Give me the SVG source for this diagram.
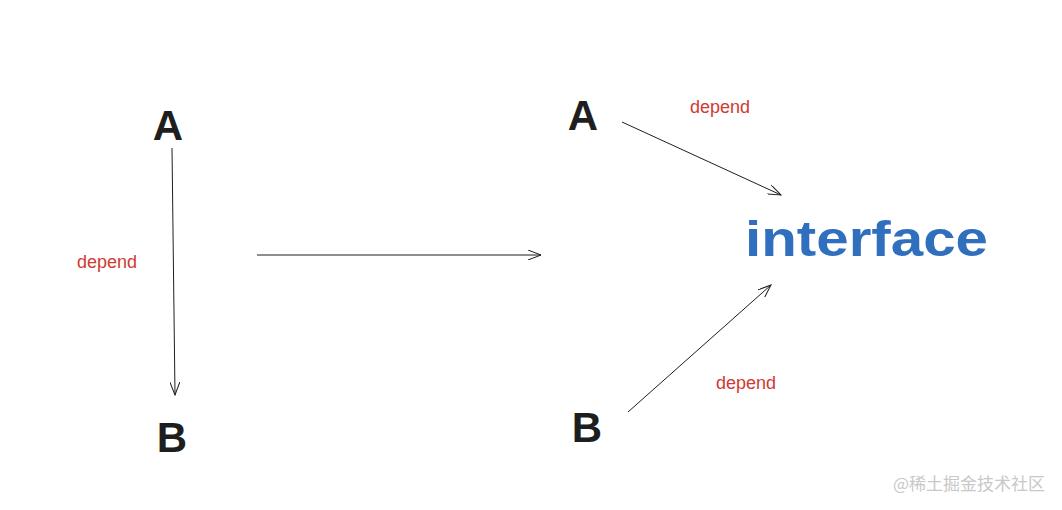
<svg xmlns="http://www.w3.org/2000/svg" width="1062" height="510" viewBox="0 0 1062 510">
<style>
.n{font-family:"Liberation Sans",sans-serif;font-weight:bold;font-size:42px;fill:#1e1e1e;text-anchor:middle}
.d{font-family:"Liberation Sans",sans-serif;font-size:18px;fill:#d03a32;text-anchor:middle}
.i{font-family:"Liberation Sans",sans-serif;font-weight:bold;font-size:50px;fill:#2f6fbd}
.c{stroke:#1e1e1e;stroke-width:1;fill:none;marker-end:url(#a)}
</style>
<defs><marker id="a" markerWidth="14" markerHeight="10" refX="13" refY="5" orient="auto" markerUnits="userSpaceOnUse"><path d="M0,0 L13,5 L0,10" fill="none" stroke="#1e1e1e" stroke-width="1"/></marker></defs>
<rect width="1062" height="510" fill="#fff"/>
<g id="leftA"><text class="n" x="168" y="140">A</text></g>
<g id="leftB"><text class="n" x="172" y="452">B</text></g>
<g id="rightA"><text class="n" x="583" y="130">A</text></g>
<g id="rightB"><text class="n" x="587" y="442">B</text></g>
<g id="interface"><text class="i" x="745" y="256" textLength="243" lengthAdjust="spacingAndGlyphs">interface</text></g>
<g id="connectors">
<path class="c" d="M172,148 L175,395"/>
<path class="c" d="M257,255 L541,255"/>
<path class="c" d="M622,122 L781,195"/>
<path class="c" d="M628,412 L771,285"/>
</g>
<g id="labels">
<text class="d" x="107" y="268">depend</text>
<text class="d" x="720" y="113">depend</text>
<text class="d" x="746" y="389">depend</text>
</g>
<text x="1045" y="490" font-family="'Noto Sans CJK SC',sans-serif" font-size="17" fill="#c8c8c8" text-anchor="end">@稀土掘金技术社区</text>
</svg>
